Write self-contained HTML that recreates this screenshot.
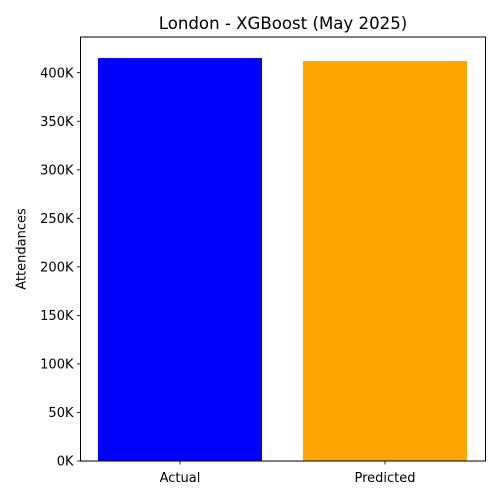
<!DOCTYPE html>
<html><head><meta charset="utf-8"><style>body{margin:0;background:#fff}svg{display:block;font-family:"DejaVu Sans","Liberation Sans",sans-serif}</style></head>
<body>
<svg id="chart" width="500" height="500"></svg>
<script>
const categories = ["Actual", "Predicted"];
const values = [415100, 412000];
const barColors = ["#0000ff", "#ffa500"];
const yTicks = [0, 50000, 100000, 150000, 200000, 250000, 300000, 350000, 400000];
const yTickLabels = ["0K","50K","100K","150K","200K","250K","300K","350K","400K"];

const NS = "http://www.w3.org/2000/svg";
const svg = document.getElementById("chart");
const L = 80.5, R = 485.5, T = 37, B = 461;
const y = v => B - v * (B - 72.7) / 400000;
const x = i => 180 + i * 205;
const bw = 164;
function mk(tag, attrs, parent) {
  const e = document.createElementNS(NS, tag);
  for (const k in attrs) e.setAttribute(k, attrs[k]);
  (parent || svg).appendChild(e);
  return e;
}
categories.forEach((c, i) => {
  const r = mk("rect", {x: x(i) - bw/2, y: y(values[i]), width: bw, height: B - y(values[i]), fill: barColors[i]});
  
  
  const tk = mk("line", {x1: x(i), x2: x(i), y1: B, y2: B + 3.5, stroke: "#000", "stroke-width": 0.8});
  
  
  const t = mk("text", {x: x(i), y: B + 21, "text-anchor": "middle", "font-size": 13});
  t.textContent = c;
  
  
});
yTicks.forEach((v, i) => {
  const tk = mk("line", {x1: L - 3.5, x2: L, y1: y(v), y2: y(v), stroke: "#000", "stroke-width": 0.8});
  
  
  const t = mk("text", {x: L - 7, y: y(v) + 4.7, "text-anchor": "end", "font-size": 13});
  t.textContent = yTickLabels[i];
  
  
});
const frame = mk("rect", {x: L, y: T, width: R - L, height: B - T, fill: "none", stroke: "#000", "stroke-width": 1});


const title = mk("text", {x: (L + R) / 2, y: 29, "text-anchor": "middle", "font-size": 16.6});
title.textContent = "London - XGBoost (May 2025)";


const yt = mk("text", {x: 0, y: 0, "text-anchor": "middle", "font-size": 13, transform: "translate(25.5," + ((T + B) / 2) + ") rotate(-90)"});
yt.textContent = "Attendances";


</script>
</body></html>
